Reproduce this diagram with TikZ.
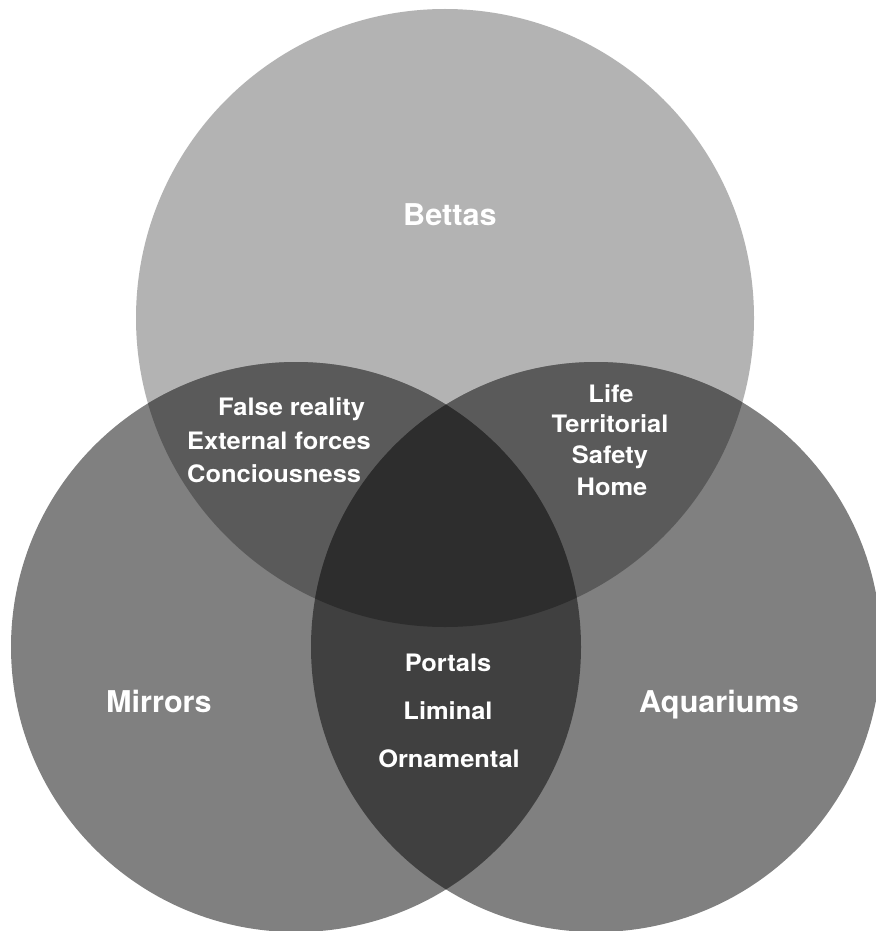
\documentclass[tikz,border=0pt]{standalone}
\usepackage{fontspec}
\setmainfont{TeX Gyre Heros}
\newfontfamily\smallfam[FakeStretch=1.06]{TeX Gyre Heros}
\newfontfamily\bigfam[FakeStretch=1.02]{TeX Gyre Heros}
\definecolor{cTop}{HTML}{B3B3B3}
\definecolor{cBot}{HTML}{808080}
\definecolor{cTopBot}{HTML}{5A5A5A}
\definecolor{cBotBot}{HTML}{404040}
\definecolor{cAll}{HTML}{2D2D2D}
\begin{document}
\begin{tikzpicture}[x=1pt,y=-1pt,
  big/.style={text=white,font=\bigfam\bfseries\fontsize{30}{36}\selectfont,anchor=base,inner sep=0pt},
  small/.style={text=white,font=\smallfam\bfseries\fontsize{24}{29}\selectfont,anchor=base,inner sep=0pt}]
\useasboundingbox (0,0) rectangle (875,931);
\fill[white] (0,0) rectangle (875,931);
% single circles
\fill[cTop] (445,318) circle (309pt);
\fill[cBot] (296,647) circle (285pt);
\fill[cBot] (596,647) circle (285pt);
% top with bottoms
\begin{scope}
  \clip (445,318) circle (309pt);
  \fill[cTopBot] (296,647) circle (285pt);
  \fill[cTopBot] (596,647) circle (285pt);
\end{scope}
% bottom pair
\begin{scope}
  \clip (296,647) circle (285pt);
  \fill[cBotBot] (596,647) circle (285pt);
\end{scope}
% center
\begin{scope}
  \clip (445,318) circle (309pt);
  \clip (296,647) circle (285pt);
  \fill[cAll] (596,647) circle (285pt);
\end{scope}
% labels
\node[big] (bettas) at (450,225) {Bettas};
\node[big] (mirrors) at (159,712) {Mirrors};
\node[big] (aquariums) at (719,712) {Aquariums};
\node[small,anchor=base west] (false) at (218,415) {False reality};
\node[small,anchor=base west] (external) at (187,449) {External forces};
\node[small,anchor=base west] (concious) at (187,482) {Conciousness};
\node[small] (life) at (611,402) {Life};
\node[small] (territorial) at (610,432) {Territorial};
\node[small] (safety) at (610,463) {Safety};
\node[small] (home) at (612,495) {Home};
\node[small] (portals) at (448,671) {Portals};
\node[small] (liminal) at (448,719) {Liminal};
\node[small] (ornamental) at (449,767) {Ornamental};
\end{tikzpicture}
\end{document}
